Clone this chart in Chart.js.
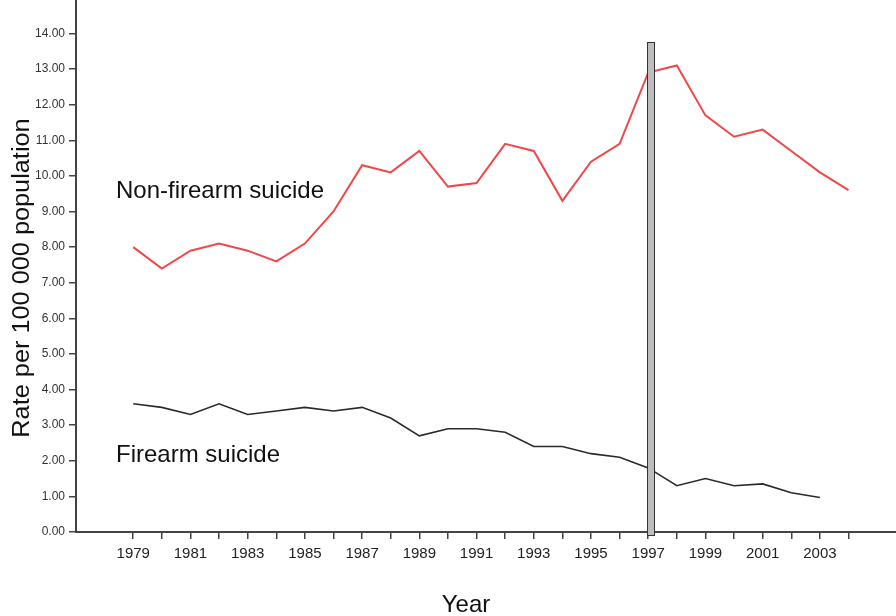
<!DOCTYPE html>
<html>
<head>
<meta charset="utf-8">
<script src="https://cdn.jsdelivr.net/npm/chart.js@4/dist/chart.umd.min.js"></script>
<style>
  html, body { margin: 0; padding: 0; background: #fff; }
  #wrap { width: 896px; height: 616px; position: relative; }
</style>
</head>
<body>
<div id="wrap"><canvas id="c"></canvas></div>
<script>
// Suicide rates per 100 000 population, 1979-2004
const years = [1979, 1980, 1981, 1982, 1983, 1984, 1985, 1986, 1987, 1988, 1989, 1990, 1991,
               1992, 1993, 1994, 1995, 1996, 1997, 1998, 1999, 2000, 2001, 2002, 2003, 2004];
const nonFirearmRate = [8.0, 7.4, 7.9, 8.1, 7.9, 7.6, 8.1, 9.0, 10.3, 10.1, 10.7, 9.7, 9.8,
                        10.9, 10.7, 9.3, 10.4, 10.9, 12.9, 13.1, 11.7, 11.1, 11.3, 10.7, 10.1, 9.6];
const firearmRate = [3.6, 3.5, 3.3, 3.6, 3.3, 3.4, 3.5, 3.4, 3.5, 3.2, 2.7, 2.9, 2.9,
                     2.8, 2.4, 2.4, 2.2, 2.1, 1.8, 1.3, 1.5, 1.3, 1.35, 1.1, 0.97];
const yTicks = [0, 1, 2, 3, 4, 5, 6, 7, 8, 9, 10, 11, 12, 13, 14];

// Reference bar marking the 1997 change
const markerYear = 1997;
const markerTop = 13.75;

const seriesLabels = { nonFirearm: 'Non-firearm suicide', firearm: 'Firearm suicide' };

const toPoints = (vals) => vals.map((v, i) => ({ x: years[i], y: v }));

// Text annotations, axis titles and the 1997 marker bar
const overlay = {
  id: 'overlay',
  afterDatasetsDraw(chart) {
    const { ctx, scales } = chart;
    const xs = scales.x, ys = scales.y;
    ctx.save();
    // marker bar
    const x0 = Math.round(xs.getPixelForValue(markerYear)) - 0.5;
    const x1 = Math.round(xs.getPixelForValue(markerYear + 0.2)) + 0.5;
    const yTop = Math.round(ys.getPixelForValue(markerTop)) + 0.5;
    const yBot = ys.getPixelForValue(0) + 3.5;
    ctx.fillStyle = '#bdbdbd';
    ctx.fillRect(x0, yTop, x1 - x0, yBot - yTop);
    ctx.strokeStyle = '#333';
    ctx.lineWidth = 1;
    ctx.strokeRect(x0, yTop, x1 - x0, yBot - yTop);

    // series labels
    ctx.fillStyle = '#111';
    ctx.font = '24px "Liberation Sans", Arial, sans-serif';
    ctx.textAlign = 'left';
    ctx.textBaseline = 'alphabetic';
    ctx.fillText(seriesLabels.nonFirearm, 116, 198);
    ctx.fillText(seriesLabels.firearm, 116, 462);

    // axis titles
    ctx.textAlign = 'center';
    ctx.fillText('Year', 466, 612);
    ctx.translate(29, 278);
    ctx.rotate(-Math.PI / 2);
    ctx.scale(1.1, 1);
    ctx.font = '23px "Liberation Sans", Arial, sans-serif';
    ctx.fillText('Rate per 100 000 population', 0, 0);
    ctx.restore();
  }
};

new Chart(document.getElementById('c'), {
  type: 'line',
  data: {
    datasets: [
      {
        label: seriesLabels.nonFirearm,
        data: toPoints(nonFirearmRate),
        borderColor: '#f04848',
        borderWidth: 2,
        pointRadius: 0,
        tension: 0,
        fill: false
      },
      {
        label: seriesLabels.firearm,
        data: toPoints(firearmRate),
        borderColor: '#2a2a2a',
        borderWidth: 1.6,
        pointRadius: 0,
        tension: 0,
        fill: false
      }
    ]
  },
  options: {
    responsive: true,
    maintainAspectRatio: false,
    animation: false,
    layout: { padding: 0 },
    plugins: { legend: { display: false }, tooltip: { enabled: false } },
    scales: {
      x: {
        type: 'linear',
        min: 1977,
        max: 2005.66,
        afterFit(scale) {
          scale.height = 84;
          scale.paddingLeft = 0;
          scale.paddingRight = 0;
        },
        afterBuildTicks(scale) { scale.ticks = years.map(v => ({ value: v })); },
        border: { display: true, color: '#444', width: 2 },
        grid: { drawOnChartArea: false, drawTicks: true, tickLength: 7, color: '#444', lineWidth: 1.5 },
        ticks: {
          autoSkip: false,
          maxRotation: 0,
          padding: 6,
          color: '#222',
          font: { family: '"Liberation Sans", Arial, sans-serif', size: 15 },
          callback: (v) => (v % 2 === 1 ? String(v) : '')
        }
      },
      y: {
        min: 0,
        max: 14.94,
        afterFit(scale) {
          scale.width = 76;
          scale.paddingTop = 0;
          scale.paddingBottom = 0;
        },
        afterBuildTicks(scale) { scale.ticks = yTicks.map(v => ({ value: v })); },
        border: { display: true, color: '#444', width: 2 },
        grid: { drawOnChartArea: false, drawTicks: true, tickLength: 7, color: '#444', lineWidth: 1.5 },
        ticks: {
          padding: 4,
          color: '#333',
          font: { family: '"Liberation Sans", Arial, sans-serif', size: 12 },
          callback: (v) => Number(v).toFixed(2)
        }
      }
    }
  },
  plugins: [overlay]
});
</script>
</body>
</html>
